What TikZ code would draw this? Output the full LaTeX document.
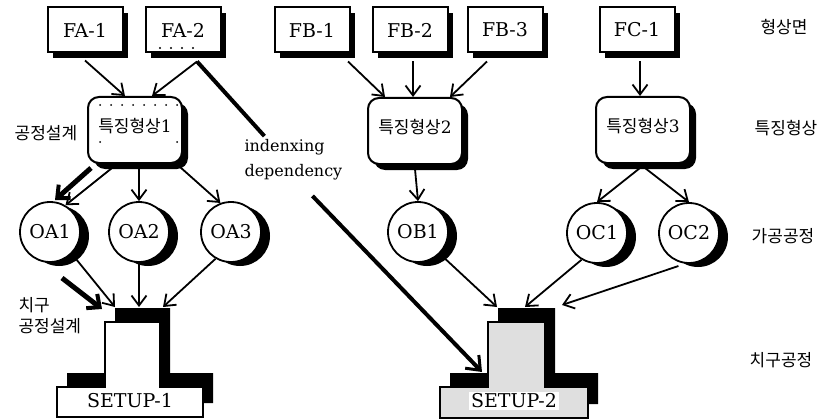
\documentclass[tikz,border=0pt]{standalone}
\usepackage{fontspec}
\setmainfont{DejaVu Serif}
\newfontfamily\kr{Noto Sans CJK KR}
\usetikzlibrary{arrows.meta,shadows}

\tikzstyle{face} = [draw, line width=2pt, fill=white, minimum width=75pt, minimum height=45pt,
    drop shadow={shadow xshift=5pt, shadow yshift=-6pt, fill=black, opacity=1}]
\tikzstyle{feat} = [draw, line width=2pt, fill=white, rounded corners=11pt, minimum width=94pt,
    minimum height=66pt, text height=14pt, text depth=10pt, font=\fontsize{17}{21}\selectfont,
    drop shadow={shadow xshift=6pt, shadow yshift=-6pt, fill=black, opacity=1}]
\tikzstyle{op} = [draw, circle, line width=1.8pt, fill=white, minimum size=60pt, inner sep=0pt,
    drop shadow={shadow xshift=9pt, shadow yshift=-4pt, fill=black, opacity=1}]
\tikzstyle{klabel} = [font=\kr\fontsize{17}{21}\selectfont, align=left]
\tikzstyle{arr} = [line width=1.8pt, -{Straight Barb[length=10pt,width=15pt]}]
\tikzstyle{bigarr} = [line width=5pt, -{Straight Barb[length=10pt,width=18pt,line width=4pt]}]
\tikzstyle{longarr} = [line width=4pt, -{Straight Barb[length=12pt,width=19pt,line width=3pt]}]
\tikzstyle{depline} = [line width=4pt]

\begin{document}
\begin{tikzpicture}[x=1pt, y=-1pt, font=\fontsize{19}{23}\selectfont]
\useasboundingbox (0,0) rectangle (828,420);

\node[face] (fa1) at (85,30) {FA-1};
\node[face] (fa2) at (183,30) {FA-2};
\node[face] (fb1) at (312,30) {FB-1};
\node[face] (fb2) at (410,30) {FB-2};
\node[face] (fb3) at (505,30) {FB-3};
\node[face] (fc1) at (637,30) {FC-1};

\node[feat] (f1) at (135,130) {{\kr 특징형상}1};
\node[feat] (f2) at (415,131) {{\kr 특징형상}2};
\node[feat] (f3) at (643,130) {{\kr 특징형상}3};

\node[op] (oa1) at (50,232) {OA1};
\node[op] (oa2) at (139,232) {OA2};
\node[op] (oa3) at (231,232) {OA3};
\node[op] (ob1) at (418,232) {OB1};
\node[op] (oc1) at (597,233) {OC1};
\node[op] (oc2) at (689,233) {OC2};

\foreach \x in {100,111,...,177} \fill (\x,105) circle (1pt);
\fill (100,142) circle (1pt) (177,142) circle (1pt);
\foreach \x in {160,171,182,193} \fill (\x,48) circle (1.1pt);

\fill[shift={(10,-14)}] (105,322) -- (160,322) -- (160,387) -- (203,387) -- (203,417)
    -- (57,417) -- (57,387) -- (105,387) -- cycle;
\filldraw[fill=white, line width=1.4pt] (105,322) -- (160,322) -- (160,387) -- (203,387) -- (203,417)
    -- (57,417) -- (57,387) -- (105,387) -- cycle;
\node[inner sep=2pt] (setup1) at (130,401) {SETUP-1};

\fill[shift={(10,-14)}] (488,322) -- (545,322) -- (545,387) -- (588,387) -- (588,418)
    -- (440,418) -- (440,387) -- (488,387) -- cycle;
\filldraw[fill=gray!25, line width=1.4pt] (488,322) -- (545,322) -- (545,387) -- (588,387) -- (588,418)
    -- (440,418) -- (440,387) -- (488,387) -- cycle;
\node[fill=white, inner sep=2pt] (setup2) at (514,401) {SETUP-2};

\coordinate (s1l) at (115,307);
\coordinate (s1m) at (139,307);
\coordinate (s1r) at (163,307);
\coordinate (s1k) at (102,309);
\coordinate (jd0) at (62,278);
\coordinate (pd) at (55,200);
\coordinate (s2l) at (497,307);
\coordinate (s2m) at (525,307);
\coordinate (s2r) at (562,305);
\coordinate (s2k) at (482,372);

\node[klabel] (lpd) at (46,133) {공정설계};
\node[klabel, anchor=west] (ljd) at (15,316) {치구\\공정설계};
\node[align=left, anchor=west, font=\fontsize{16}{25}\selectfont] (dep) at (241,160) {indenxing\\dependency};

\node[klabel] (r1) at (784,27) {형상면};
\node[klabel] (r2) at (786,128) {특징형상};
\node[klabel] (r3) at (783,236) {가공공정};
\node[klabel] (r4) at (781,360) {치구공정};

\draw[arr] ([yshift=-7pt]fa1.south) -- ([xshift=-10pt]f1.north);
\draw[arr] ([xshift=14pt,yshift=-8pt]fa2.south) -- ([xshift=17pt]f1.north);
\draw[depline] ([xshift=14pt,yshift=-8pt]fa2.south) -- ([xshift=-29pt]dep.north);
\draw[arr] ([xshift=36pt,yshift=-8pt]fb1.south) -- ([xshift=-30pt]f2.north);
\draw[arr] ([xshift=3pt,yshift=-8pt]fb2.south) -- ([xshift=-2pt]f2.north);
\draw[arr] ([xshift=-18pt,yshift=-8pt]fb3.south) -- ([xshift=35pt]f2.north);
\draw[arr] ([xshift=3pt,yshift=-8pt]fc1.south) -- ([xshift=-3pt]f3.north);

\draw[arr] ([xshift=-23pt,yshift=-4pt]f1.south) -- (oa1.60);
\draw[arr] ([xshift=4pt,yshift=-5pt]f1.south) -- (oa2.north);
\draw[arr] ([xshift=45pt,yshift=-3pt]f1.south) -- (oa3.110);
\draw[bigarr] ([xshift=-44pt,yshift=-4pt]f1.south) -- (pd);
\draw[arr] ([yshift=-4pt]f2.south) -- (ob1.north);
\draw[arr] ([xshift=-3pt,yshift=-4pt]f3.south) -- (oc1.north);
\draw[arr] ([xshift=2pt,yshift=-4pt]f3.south) -- (oc2.north);

\draw[arr] (oa1.-45) -- (s1l);
\draw[arr] (oa2.south) -- (s1m);
\draw[arr] (oa3.-120) -- (s1r);
\draw[bigarr] (jd0) -- (s1k);
\draw[arr] (ob1.-45) -- (s2l);
\draw[arr] (oc1.-120) -- (s2m);
\draw[arr] ([yshift=-4pt]oc2.-110) -- (s2r);
\draw[longarr] ([xshift=19pt,yshift=-12pt]dep.south) -- (s2k);
\end{tikzpicture}
\end{document}
